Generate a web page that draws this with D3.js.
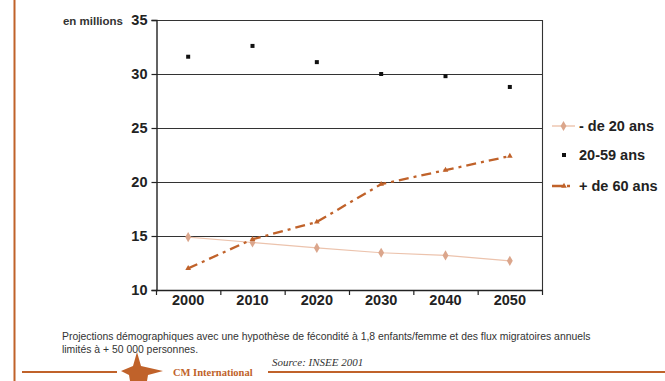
<!DOCTYPE html>
<html>
<head>
<meta charset="utf-8">
<script src="https://cdn.jsdelivr.net/npm/d3@7"></script>
<style>
  html, body { margin: 0; padding: 0; background: #fff; }
  svg { display: block; }
</style>
</head>
<body>
<svg id="chart" width="665" height="381"></svg>
<script>
// Population projections (millions) by age group
const years = ["2000", "2010", "2020", "2030", "2040", "2050"];
const under20 = [14.9, 14.4, 13.9, 13.45, 13.2, 12.7];
const age20to59 = [31.6, 32.6, 31.1, 30.0, 29.8, 28.8];
const over60 = [12.0, 14.7, 16.3, 19.8, 21.1, 22.4];
const yTicks = [10, 15, 20, 25, 30, 35];
const seriesNames = ["- de 20 ans", "20-59 ans", "+ de 60 ans"];

const orange = "#c0622a";
const salmonLine = "#ecc3ad";
const salmonMark = "#dba68c";
const narrow = "'Liberation Sans Narrow', 'Arial Narrow', 'Liberation Sans', sans-serif";
const sans = "'Liberation Sans', Arial, sans-serif";
const serif = "'Liberation Serif', 'Times New Roman', serif";

const svg = d3.select("#chart");

const plot = { left: 156, right: 542, top: 20, bottom: 290 };
const x = d3.scaleBand().domain(years).range([plot.left, plot.right]);
const y = d3.scaleLinear().domain([10, 35]).range([plot.bottom, plot.top]);
const cx = d => x(d) + x.bandwidth() / 2;

// Left frame rule
svg.append("line")
  .attr("x1", 14.5).attr("x2", 14.5).attr("y1", 0).attr("y2", 381)
  .attr("stroke", orange).attr("stroke-width", 2);

// Horizontal gridlines
svg.append("g").selectAll("line")
  .data(yTicks.filter(t => t > 10))
  .join("line")
  .attr("x1", plot.left).attr("x2", plot.right)
  .attr("y1", d => Math.round(y(d)) + 0.5).attr("y2", d => Math.round(y(d)) + 0.5)
  .attr("stroke", "#333").attr("stroke-width", 1.1);

// Right border of the plot
svg.append("line")
  .attr("x1", plot.right + 0.5).attr("x2", plot.right + 0.5)
  .attr("y1", plot.top).attr("y2", plot.bottom)
  .attr("stroke", "#333").attr("stroke-width", 1.1);

// Y axis
const yAxis = svg.append("g")
  .attr("transform", `translate(${plot.left + 0.5},0)`)
  .call(d3.axisLeft(y).tickValues(yTicks).tickSize(5).tickPadding(4));
yAxis.select(".domain").attr("stroke", "#222").attr("stroke-width", 1.4);
yAxis.selectAll(".tick line").attr("stroke", "#222").attr("stroke-width", 1.2);
yAxis.selectAll("text")
  .attr("font-family", narrow).attr("font-weight", "bold")
  .attr("font-size", 14.5).attr("fill", "#222");

// X axis: ticks sit on the band boundaries
const bounds = years.map(d => x(d)).concat([plot.right]);
const xAxisG = svg.append("g");
xAxisG.append("line")
  .attr("x1", plot.left).attr("x2", plot.right + 1)
  .attr("y1", plot.bottom + 0.5).attr("y2", plot.bottom + 0.5)
  .attr("stroke", "#222").attr("stroke-width", 1.6);
xAxisG.selectAll("line.tk").data(bounds).join("line")
  .attr("class", "tk")
  .attr("x1", d => d + 0.5).attr("x2", d => d + 0.5)
  .attr("y1", plot.bottom).attr("y2", plot.bottom + 5)
  .attr("stroke", "#222").attr("stroke-width", 1.2);
xAxisG.selectAll("text").data(years).join("text")
  .attr("x", d => cx(d)).attr("y", 305)
  .attr("text-anchor", "middle")
  .attr("font-family", narrow).attr("font-weight", "bold")
  .attr("font-size", 14.5).attr("fill", "#222")
  .text(d => d);

// Unit label
svg.append("text")
  .attr("x", 123).attr("y", 25)
  .attr("text-anchor", "end")
  .attr("font-family", sans).attr("font-weight", "bold")
  .attr("font-size", 11.5).attr("fill", "#333")
  .text("en millions");

// Series: under 20 (thin light line with diamonds)
const line = d3.line().x((d, i) => cx(years[i])).y(d => y(d));
svg.append("path")
  .datum(under20)
  .attr("d", line)
  .attr("fill", "none").attr("stroke", salmonLine).attr("stroke-width", 1.2);
const diamond = d3.symbol().type(d3.symbolDiamond).size(30);
svg.append("g").selectAll("path")
  .data(under20).join("path")
  .attr("d", diamond)
  .attr("transform", (d, i) => `translate(${cx(years[i])},${y(d)})`)
  .attr("fill", salmonMark);

// Series: 20-59 (markers only)
svg.append("g").selectAll("rect")
  .data(age20to59).join("rect")
  .attr("x", (d, i) => cx(years[i]) - 2)
  .attr("y", d => y(d) - 2)
  .attr("width", 4).attr("height", 4)
  .attr("fill", "#111");

// Series: over 60 (dash-dot line with small triangles)
svg.append("path")
  .datum(over60)
  .attr("d", line)
  .attr("fill", "none").attr("stroke", orange).attr("stroke-width", 2.3)
  .attr("stroke-dasharray", "10,5,3,5");
const tri = d3.symbol().type(d3.symbolTriangle).size(14);
svg.append("g").selectAll("path")
  .data(over60).join("path")
  .attr("d", tri)
  .attr("transform", (d, i) => `translate(${cx(years[i])},${y(d)})`)
  .attr("fill", orange);

// Legend
const legendY = [126, 155, 186];
const lg = svg.append("g");
lg.append("line").attr("x1", 552).attr("x2", 575).attr("y1", legendY[0]).attr("y2", legendY[0])
  .attr("stroke", salmonLine).attr("stroke-width", 1.4);
lg.append("path").attr("d", diamond).attr("transform", `translate(563.5,${legendY[0]})`)
  .attr("fill", salmonMark);
lg.append("rect").attr("x", 562).attr("y", legendY[1] - 2).attr("width", 4).attr("height", 4)
  .attr("fill", "#111");
lg.append("line").attr("x1", 552).attr("x2", 576).attr("y1", legendY[2]).attr("y2", legendY[2])
  .attr("stroke", orange).attr("stroke-width", 2.5).attr("stroke-dasharray", "12,3,3,20");
lg.append("path").attr("d", tri).attr("transform", `translate(564,${legendY[2]})`)
  .attr("fill", orange);
lg.selectAll("text").data(seriesNames).join("text")
  .attr("x", 579).attr("y", (d, i) => legendY[i] + 5)
  .attr("font-family", sans).attr("font-weight", "bold")
  .attr("font-size", 14.5).attr("fill", "#222")
  .text(d => d);

// Footnote
const note = svg.append("text")
  .attr("font-family", sans).attr("font-size", 10.4).attr("fill", "#333");
note.append("tspan").attr("x", 62).attr("y", 339.5)
  .text("Projections démographiques avec une hypothèse de fécondité à 1,8 enfants/femme et des flux migratoires annuels");
note.append("tspan").attr("x", 62).attr("y", 353)
  .text("limités à + 50 000 personnes.");

svg.append("text")
  .attr("x", 272).attr("y", 366)
  .attr("font-family", serif).attr("font-style", "italic")
  .attr("font-size", 11).attr("fill", "#333")
  .text("Source: INSEE 2001");

// Footer rule with emblem and name
svg.append("line").attr("x1", 22).attr("x2", 117).attr("y1", 372).attr("y2", 372)
  .attr("stroke", orange).attr("stroke-width", 2);
svg.append("line").attr("x1", 268).attr("x2", 665).attr("y1", 372).attr("y2", 372)
  .attr("stroke", orange).attr("stroke-width", 2);
svg.append("polygon")
  .attr("points", "137,352 141,366 163,371 148,375 147,381 130,381 129,375 121,371 133,366")
  .attr("fill", orange);
svg.append("text")
  .attr("x", 173).attr("y", 376)
  .attr("font-family", serif).attr("font-weight", "bold")
  .attr("font-size", 10.5).attr("fill", orange)
  .text("CM International");
</script>
</body>
</html>
